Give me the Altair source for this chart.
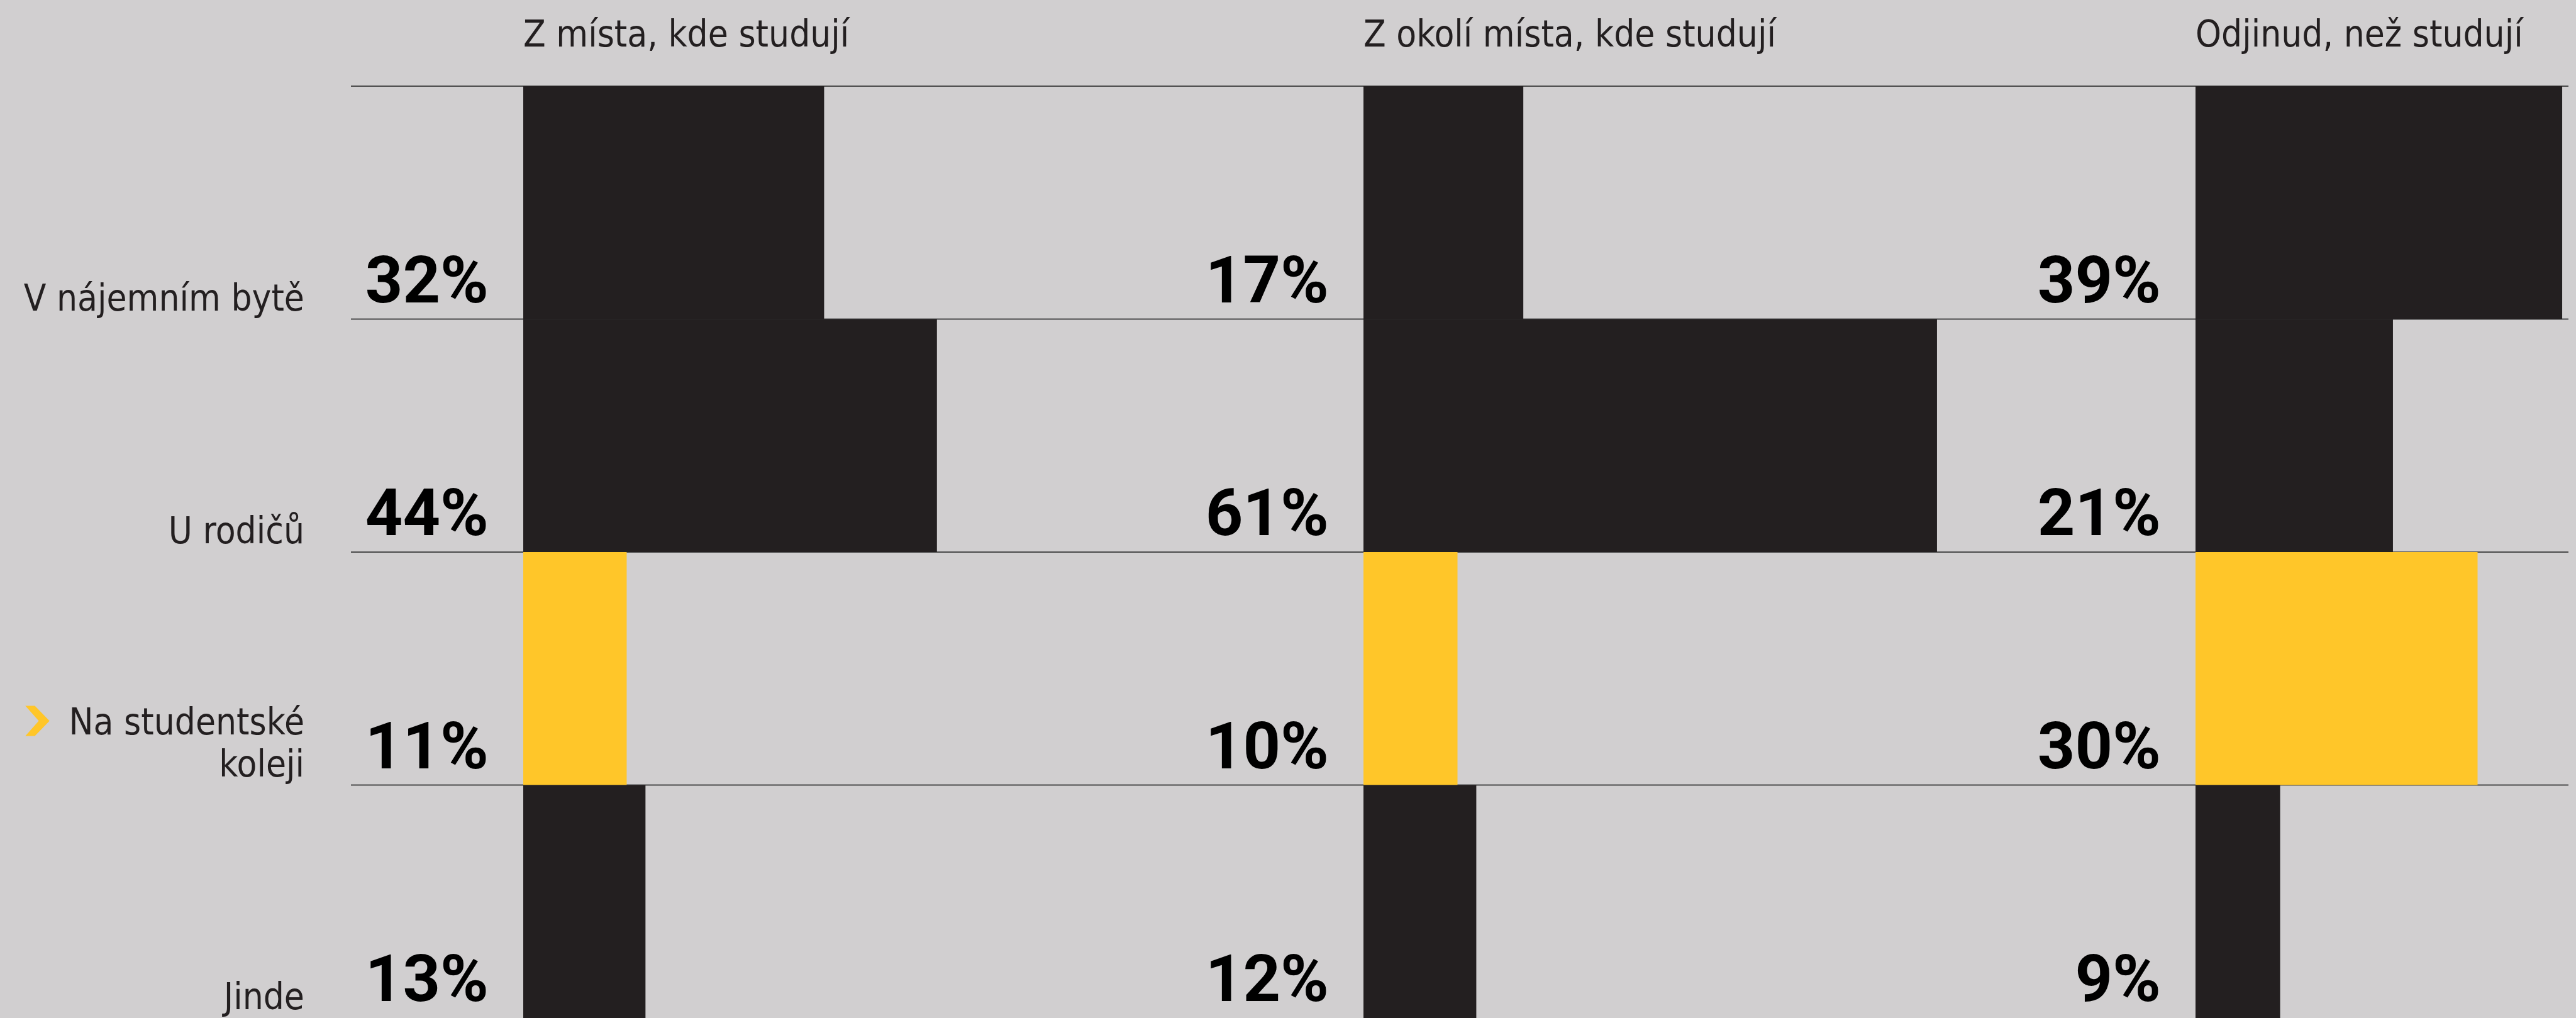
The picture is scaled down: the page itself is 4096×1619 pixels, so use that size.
import altair as alt
import pandas as pd

# ---- data ----
categories = ["V nájemním bytě", "U rodičů", "Na studentské koleji", "Jinde"]
category_labels = ["V nájemním bytě", "U rodičů", "Na studentské\nkoleji", "Jinde"]
groups = ["Z místa, kde studují", "Z okolí místa, kde studují", "Odjinud, než studují"]
values_mista = [32, 44, 11, 13]
values_okoli = [17, 61, 10, 12]
values_odjinud = [39, 21, 30, 9]
highlight = "Na studentské koleji"

series = [values_mista, values_okoli, values_odjinud]

# ---- style ----
BG = "#D1CFD0"
DARK = "#231F20"
YELLOW = "#FFC629"
GRID = "#4A4A4A"
FONT = "DejaVu Sans Condensed, Liberation Sans Narrow, Roboto, sans-serif"
FONT_PCT = "Roboto, Liberation Sans, sans-serif"

H = 1619
BAND_TOP = 137
HALF_BAND = (H - BAND_TOP) / 8.0
LEFT_W = 558
PANEL_W = [1336, 1323, 879]
PX_PER_PCT = 14.95
BAR_OFFSET = 274
LABEL_SIZE = 58
LINE_H = 67

yscale = alt.Scale(domain=categories, range=[BAND_TOP, H], paddingInner=0, paddingOuter=0)

# left label panel: split multi-line labels into last line / earlier line
last_rows, upper_rows = [], []
for cat, lab in zip(categories, category_labels):
    parts = lab.split("\n")
    last_rows.append({"category": cat, "line": parts[-1]})
    for p in parts[:-1]:
        upper_rows.append({"category": cat, "line": p})

label_kwargs = dict(align="right", baseline="alphabetic", font=FONT, fontSize=LABEL_SIZE, color=DARK)
left_last = alt.Chart(pd.DataFrame(last_rows)).mark_text(
    dy=HALF_BAND - 14, **label_kwargs
).encode(
    x=alt.value(484),
    y=alt.Y("category:N", scale=yscale, axis=None),
    text="line:N",
)
left_upper = alt.Chart(pd.DataFrame(upper_rows)).mark_text(
    dy=HALF_BAND - 14 - LINE_H, **label_kwargs
).encode(
    x=alt.value(484),
    y=alt.Y("category:N", scale=yscale, axis=None),
    text="line:N",
)
chev_df = pd.DataFrame({"category": [highlight]})
chevron = alt.Chart(chev_df).mark_point(
    shape="M-0.8,-1 L-0.17,-1 L0.8,0 L-0.17,1 L-0.8,1 L0.09,0 Z",
    filled=True, fill=YELLOW, opacity=1, size=2304, yOffset=HALF_BAND - 102,
).encode(
    x=alt.value(59.5),
    y=alt.Y("category:N", scale=yscale, axis=None),
)
left = alt.layer(left_last, left_upper, chevron).properties(width=LEFT_W, height=H)

panels = []
for i, (g, vals) in enumerate(zip(groups, series)):
    w = PANEL_W[i]
    df = pd.DataFrame({
        "category": categories,
        "value": vals,
        "label": [f"{v}%" for v in vals],
    })
    xscale = alt.Scale(domain=[-BAR_OFFSET / PX_PER_PCT, (w - BAR_OFFSET) / PX_PER_PCT], zero=False, nice=False)
    base = alt.Chart(df)
    rules = base.mark_rule(color=GRID, strokeWidth=2).encode(
        y=alt.Y("category:N", scale=yscale, axis=None, bandPosition=0),
        x=alt.value(0),
        x2=alt.value(w - 12 if i == 2 else w),
    )
    bars = base.mark_bar(cornerRadius=0).encode(
        y=alt.Y("category:N", scale=yscale, axis=None),
        x=alt.X("value:Q", scale=xscale, axis=None),
        x2=alt.datum(0),
        color=alt.condition(alt.datum.category == highlight, alt.value(YELLOW), alt.value(DARK)),
    )
    pct = base.mark_text(
        align="right", baseline="alphabetic", font=FONT_PCT, fontSize=104,
        fontWeight="bold", color="#000000", dx=-55, dy=HALF_BAND - 27,
    ).encode(
        y=alt.Y("category:N", scale=yscale, axis=None),
        x=alt.datum(0),
        text="label:N",
    )
    title = alt.Chart(pd.DataFrame({"title": [g]})).mark_text(
        align="left", baseline="alphabetic", font=FONT, fontSize=LABEL_SIZE, color=DARK,
    ).encode(
        x=alt.datum(0),
        y=alt.value(74),
        text="title:N",
    )
    panels.append(alt.layer(rules, bars, pct, title).properties(width=w, height=H))

chart = alt.hconcat(left, *panels, spacing=0, bounds="flush").properties(
    background=BG, padding=0,
).configure_view(stroke=None).configure_concat(spacing=0)

chart.save("out.html", embed_options={"renderer": "svg", "actions": False})
